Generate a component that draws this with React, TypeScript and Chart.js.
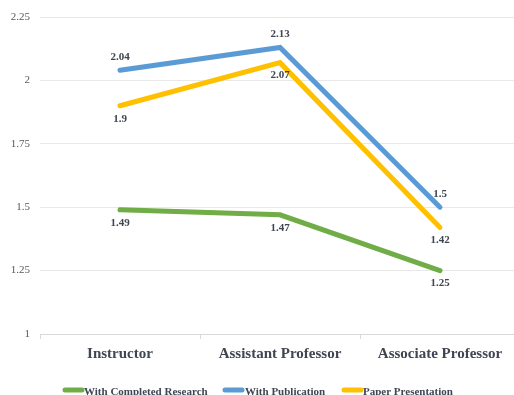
import React, { useEffect, useRef } from "react";
import { Chart, registerables } from "chart.js";

Chart.register(...registerables);

const categories = ["Instructor", "Assistant Professor", "Associate Professor"];
const completedResearch = [1.49, 1.47, 1.25];
const withPublication = [2.04, 2.13, 1.5];
const paperPresentation = [1.9, 2.07, 1.42];
const seriesNames = ["With Completed Research", "With Publication", "Paper Presentation"];
const seriesColors = ["#70AD47", "#5B9BD5", "#FFC000"];
const labelBelow = [true, false, true];
const yTickLabels: Record<string, string> = { "1": "1", "1.25": "1.25", "1.5": "1.5", "1.75": "1.75", "2": "2", "2.25": "2.25" };

const FONT = "'Liberation Serif', 'Times New Roman', serif";
const TEXT = "#404552";

const labelPlugin = {
  id: "valueLabels",
  afterDatasetsDraw(chart: any) {
    const ctx = chart.ctx;
    ctx.save();
    ctx.font = `bold 11px ${FONT}`;
    ctx.fillStyle = TEXT;
    ctx.textAlign = "center";
    ctx.textBaseline = "middle";
    chart.data.datasets.forEach((ds: any, di: number) => {
      const meta = chart.getDatasetMeta(di);
      meta.data.forEach((pt: any, i: number) => {
        const off = labelBelow[di] ? 13 : -13;
        ctx.fillText(String(ds.data[i]), pt.x, pt.y + off);
      });
    });
    const items = [
      { lx: 63, tx: 84 },
      { lx: 223, tx: 245 },
      { lx: 342, tx: 363 },
    ];
    const y = 392;
    ctx.textAlign = "left";
    items.forEach((it, i) => {
      ctx.strokeStyle = seriesColors[i];
      ctx.lineWidth = 5;
      ctx.lineCap = "round";
      ctx.beginPath();
      ctx.moveTo(it.lx + 2, y - 2);
      ctx.lineTo(it.lx + 19, y - 2);
      ctx.stroke();
      ctx.fillText(seriesNames[i], it.tx, y);
    });
    ctx.restore();
  },
};

export default function App() {
  const ref = useRef<HTMLCanvasElement>(null);
  useEffect(() => {
    if (!ref.current) return;
    const data = [completedResearch, withPublication, paperPresentation];
    const chart = new Chart(ref.current, {
      type: "line",
      data: {
        labels: categories,
        datasets: data.map((d, i) => ({
          label: seriesNames[i],
          data: d,
          borderColor: seriesColors[i],
          backgroundColor: seriesColors[i],
          borderWidth: 5,
          pointRadius: 0,
          borderCapStyle: "round" as const,
          borderJoinStyle: "miter" as const,
          tension: 0,
        })),
      },
      options: {
        animation: false,
        responsive: false,
        maintainAspectRatio: false,
        layout: { padding: { top: 17, right: 10, left: 0, bottom: 0 } },
        plugins: { legend: { display: false }, tooltip: { enabled: false } },
        scales: {
          x: {
            offset: true,
            grid: {
              offset: true,
              drawOnChartArea: false,
              drawTicks: true,
              tickLength: 5,
              color: "#d9d9d9",
            },
            border: { color: "#d9d9d9" },
            ticks: {
              font: { family: FONT, size: 15, weight: "bold" },
              color: TEXT,
              padding: 6,
              maxRotation: 0,
            },
            afterFit(scale: any) {
              scale.height = 61;
            },
          },
          y: {
            min: 1,
            max: 2.25,
            ticks: {
              stepSize: 0.25,
              font: { family: FONT, size: 11 },
              color: "#595959",
              padding: 10,
              callback: (v: any) => yTickLabels[String(Math.round(Number(v) * 100) / 100)] ?? String(v),
            },
            grid: { color: "#e8e8e8", drawTicks: false },
            border: { display: false },
            afterFit(scale: any) {
              scale.width = 40;
            },
          },
        },
      },
      plugins: [labelPlugin],
    });
    return () => chart.destroy();
  }, []);
  return (
    <div
      style={{
        position: "fixed",
        left: 0,
        top: 0,
        width: 514,
        height: 395,
        overflow: "hidden",
        background: "#fff",
      }}
    >
      <canvas ref={ref} width={530} height={395} style={{ width: 530, height: 395 }} />
    </div>
  );
}
